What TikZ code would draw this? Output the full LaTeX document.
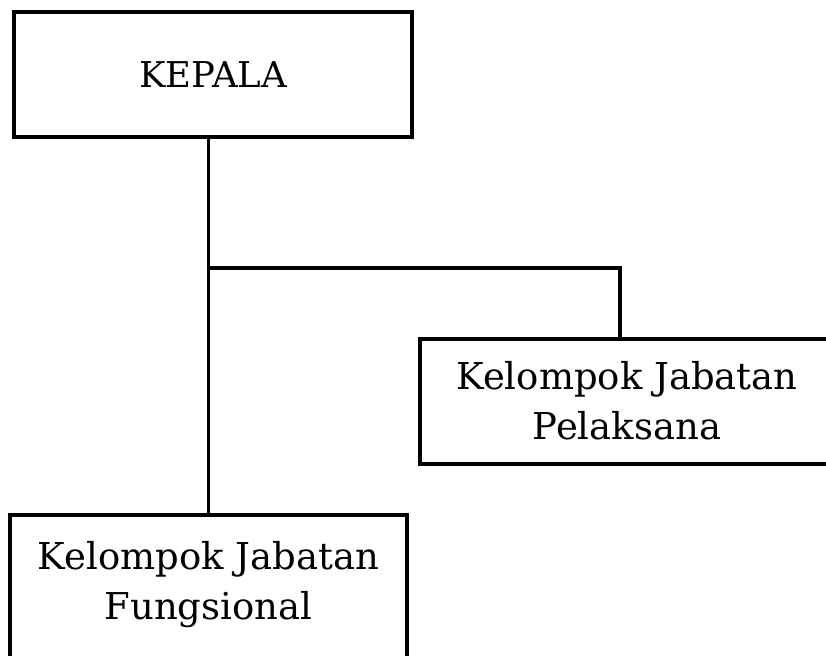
\documentclass[tikz,border=0pt]{standalone}
\usepackage{fontspec}
\setmainfont{DejaVu Serif}
\begin{document}
\begin{tikzpicture}[x=1pt,y=-1pt,
  orgbox/.style={draw, line width=4pt, align=center, inner sep=0pt,
    font=\fontsize{37}{50}\selectfont},
  conn/.style={line width=3.5pt}]
\useasboundingbox (0,0) rectangle (826,655);
\node[orgbox, minimum width=398pt, minimum height=125pt, font=\fontsize{35.5}{40}\selectfont] (kepala) at (213,74.5) {KEPALA};
\node[orgbox, minimum width=414pt, minimum height=125pt] (pel) at (627,401) {Kelompok Jabatan\\Pelaksana};
\node[orgbox, minimum width=397pt, anchor=north, inner ysep=26pt] (fung) at (208.5,513) {Kelompok Jabatan\\Fungsional\rule[-45pt]{0pt}{0pt}};
\coordinate (j) at (208.5,268);
\coordinate (t) at (620,268);
\draw[conn] (kepala.south -| fung.north) -- (fung.north);
\draw[conn] (j) -- (t) -- (t |- pel.north);
\end{tikzpicture}
\end{document}
